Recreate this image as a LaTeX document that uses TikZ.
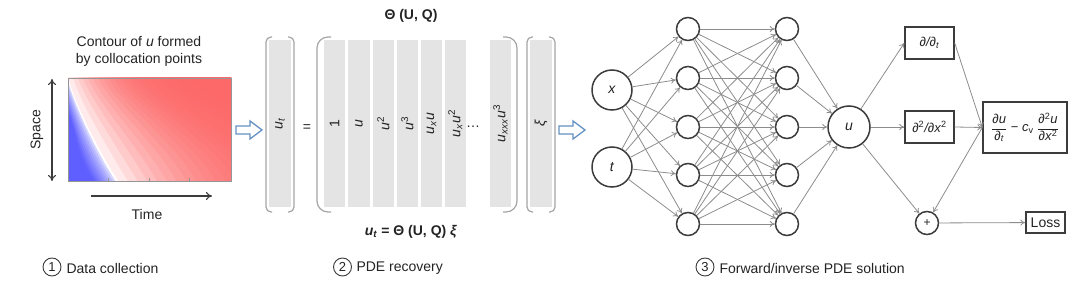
\documentclass[tikz,border=0pt]{standalone}
\usepackage{fontspec}
\setmainfont{Liberation Sans}
\usetikzlibrary{arrows.meta}
\definecolor{edgegray}{RGB}{140,140,140}
\definecolor{outl}{RGB}{60,60,60}
\definecolor{colgray}{RGB}{228,228,228}
\definecolor{brgray}{RGB}{165,165,165}
\definecolor{arrowblue}{RGB}{100,145,195}
\definecolor{fieldred}{RGB}{253,105,105}
\definecolor{fieldblue}{RGB}{95,95,255}
\definecolor{framegray}{RGB}{150,150,150}
\definecolor{txt}{RGB}{35,35,35}
\begin{document}
\begin{tikzpicture}[x=1pt,y=-1pt,
  font=\fontsize{14}{17}\selectfont,
  every node/.style={text=txt},
  colbox/.style={fill=colgray, minimum width=167pt, minimum height=21.5pt, inner sep=0pt, rotate=90},
  brk/.style={draw=brgray, line width=1.2pt},
  harrow/.style={draw=arrowblue, line width=1.3pt, fill=white, line join=miter},
  axisarrow/.style={draw=outl, line width=1.1pt, {To[length=6pt,width=8pt]}-{To[length=6pt,width=8pt]}},
  taxis/.style={draw=outl, line width=1.1pt, -{To[length=6pt,width=8pt]}},
  nnline/.style={draw=edgegray, line width=0.8pt, -{To[length=5pt,width=6pt]}},
  neuron/.style={circle, draw=outl, line width=1.5pt, fill=white, inner sep=0pt},
  inp/.style={neuron, minimum size=40pt},
  hid/.style={neuron, minimum size=23pt},
  box/.style={rectangle, draw=outl, line width=1.4pt, inner sep=2pt, fill=white},
  numc/.style={circle, draw=outl, line width=0.9pt, inner sep=0pt, minimum size=18pt, font=\fontsize{13}{13}\selectfont}
]
\useasboundingbox (0,0) rectangle (1080,288);

% ---------- panel 1: field ----------
\begin{scope}
  \clip (68,78) rectangle (231,181);
  \fill[fieldred] (60,70) rectangle (240,190);
  \foreach \k in {0,...,36} {
    \pgfmathsetmacro\s{1-\k/36}
    \pgfmathsetmacro\tx{68+180*\s}
    \pgfmathsetmacro\bx{118+350*\s}
    \pgfmathsetmacro\ca{6+19*\s}
    \pgfmathsetmacro\cb{22+4*\s}
    \pgfmathsetmacro\cc{-23+23*\s}
    \pgfmathsetmacro\cd{-36+1*\s}
    \pgfmathsetmacro\p{100*(1-(1-\s)^5)}
    \fill[fieldred!\p!white] (\tx,78) .. controls +(\ca,\cb) and +(\cc,\cd) .. (\bx,181) -- (40,195) -- (40,60) -- (\tx,60) -- cycle;
  }
  \foreach \k in {1,...,18} {
    \pgfmathsetmacro\s{\k/18}
    \pgfmathsetmacro\ty{78+65*\s}
    \pgfmathsetmacro\bx{118-46*\s}
    \pgfmathsetmacro\ca{6+6*\s}
    \pgfmathsetmacro\cc{-23+10*\s}
    \pgfmathsetmacro\cd{-36+16*\s}
    \pgfmathsetmacro\q{min(100,150*\s^0.6)}
    \fill[fieldblue!\q!white] (68,\ty) .. controls +(\ca,22) and +(\cc,\cd) .. (\bx,181) -- (40,195) -- (40,\ty) -- cycle;
  }
\end{scope}
\draw[draw=framegray, line width=0.6pt] (68,78) rectangle (231,181);
\foreach \tk in {108,149,189} \draw[framegray, line width=0.8pt] (\tk,181) -- (\tk,178.5);

\node[align=center] (title) at (139,51) {Contour of \textit{u} formed\\by collocation points};
\coordinate (sp1) at (52,79);
\coordinate (sp2) at (52,181);
\draw[axisarrow] (sp1) -- (sp2);
\node[rotate=90] (space) at (37,130) {Space};
\coordinate (tm1) at (91,196);
\coordinate (tm2) at (212,196);
\draw[taxis] (tm1) -- (tm2);
\node (time) at (147,214) {Time};

\node[numc] (n1) at (52,267) {1};
\node[anchor=west] (l1) at (63,268) {Data collection};

% ---------- hollow arrows ----------
\foreach \ax in {236,559}
  \draw[harrow] (\ax,126) -- ++(14,0) -- ++(0,-5) -- ++(12,9) -- ++(-12,9) -- ++(0,-5) -- ++(-14,0) -- cycle;

% ---------- panel 2 ----------
\node[font=\bfseries\fontsize{14}{17}\selectfont] (theta) at (411,16) {Θ (U, Q)};
% u_t column
\node[colbox] (cut) at (280,123.5) {\textit{u}\textsubscript{\textit{t}}};
\draw[brk, rounded corners=5pt] (272,37) -- (266,37) -- (266,212) -- (272,212);
\draw[brk, rounded corners=5pt] (288,37) -- (294,37) -- (294,212) -- (288,212);
\node (eq) at (307,128) {=};
% matrix
\draw[brk, rounded corners=11pt] (331,37) -- (317,37) -- (317,212) -- (331,212);
\draw[brk, rounded corners=11pt] (503,37) -- (517,37) -- (517,212) -- (503,212);
\node[colbox] (c1) at (334.5,123.5) {1};
\node[colbox] (c2) at (359,123.5) {\textit{u}};
\node[colbox] (c3) at (383.3,123.5) {\textit{u}\textsuperscript{2}};
\node[colbox] (c4) at (407.5,123.5) {\textit{u}\textsuperscript{3}};
\node[colbox] (c5) at (431.5,123.5) {\textit{u}\textsubscript{\textit{x}}\textit{u}};
\node[colbox] (c6) at (455.3,123.5) {\textit{u}\textsubscript{\textit{x}}\textit{u}\textsuperscript{2}};
\node (dots) at (473,127) {…};
\node[colbox] (c7) at (500.5,123.5) {\textit{u}\textsubscript{\textit{xxx}}\textit{u}\textsuperscript{3}};
% xi column
\node[colbox] (cxi) at (541,123.5) {\textit{ξ}};
\draw[brk, rounded corners=5pt] (533,37) -- (527,37) -- (527,212) -- (533,212);
\draw[brk, rounded corners=5pt] (549,37) -- (555,37) -- (555,212) -- (549,212);

\node[font=\bfseries\fontsize{14}{17}\selectfont] (eqn) at (411,232) {\textit{u}\textsubscript{\textit{t}} = Θ (U, Q) \textit{ξ}};
\node[numc] (n2) at (342.5,267) {2};
\node[anchor=west] (l2) at (353,268) {PDE recovery};

% ---------- panel 3 ----------
\node[inp] (x) at (612,90) {\textit{x}};
\node[inp] (t) at (612,167) {\textit{t}};
\foreach \j/\y in {1/29,2/78,3/127,4/175,5/224} {
  \node[hid] (a\j) at (688,\y) {};
  \node[hid] (b\j) at (787,\y) {};
}
\node[neuron, minimum size=42pt] (u) at (849,127) {\textit{u}};
\foreach \i in {x,t} \foreach \j in {1,...,5} \draw[nnline] (\i) -- (a\j);
\foreach \i in {1,...,5} \foreach \j in {1,...,5} \draw[nnline] (a\i) -- (b\j);
\foreach \i in {1,...,5} \draw[nnline] (b\i) -- (u);

\node[box, minimum width=49pt, minimum height=32pt, font=\fontsize{13}{15}\selectfont] (d1) at (929.5,43) {\textit{∂/∂}\textsubscript{\textit{t}}};
\node[box, minimum width=49pt, minimum height=32pt, font=\fontsize{13}{15}\selectfont] (d2) at (929.5,127) {\textit{∂}\textsuperscript{2}\textit{/∂x}\textsuperscript{2}};
\node[box, minimum width=84pt, minimum height=51pt, font=\fontsize{13}{15}\selectfont] (pde) at (1025,127.5)
  {$\displaystyle\frac{\mbox{\textit{∂u}}}{\mbox{\textit{∂}\textsubscript{\textit{t}}}}\mbox{ − \textit{c}\textsubscript{v} }\frac{\mbox{\textit{∂}\textsuperscript{2}\textit{u}}}{\mbox{\textit{∂x}\textsuperscript{2}}}$};
\node[neuron, minimum size=23pt, font=\fontsize{12}{12}\selectfont] (plus) at (927,223) {+};
\node[box, minimum width=39pt, minimum height=21pt] (loss) at (1045.5,222.5) {Loss};

\draw[nnline] (u) -- (d1.west);
\draw[nnline] (u) -- (d2.west);
\draw[nnline] (u) -- (plus);
\draw[nnline] (d1.east) -- (pde.west);
\draw[nnline] (d2.east) -- (pde.west);
\draw[nnline] (pde.west) -- (plus);
\draw[nnline] (plus) -- (loss);

\node[numc] (n3) at (705,267) {3};
\node[anchor=west] (l3) at (716,268) {Forward/inverse PDE solution};
\end{tikzpicture}
\end{document}
